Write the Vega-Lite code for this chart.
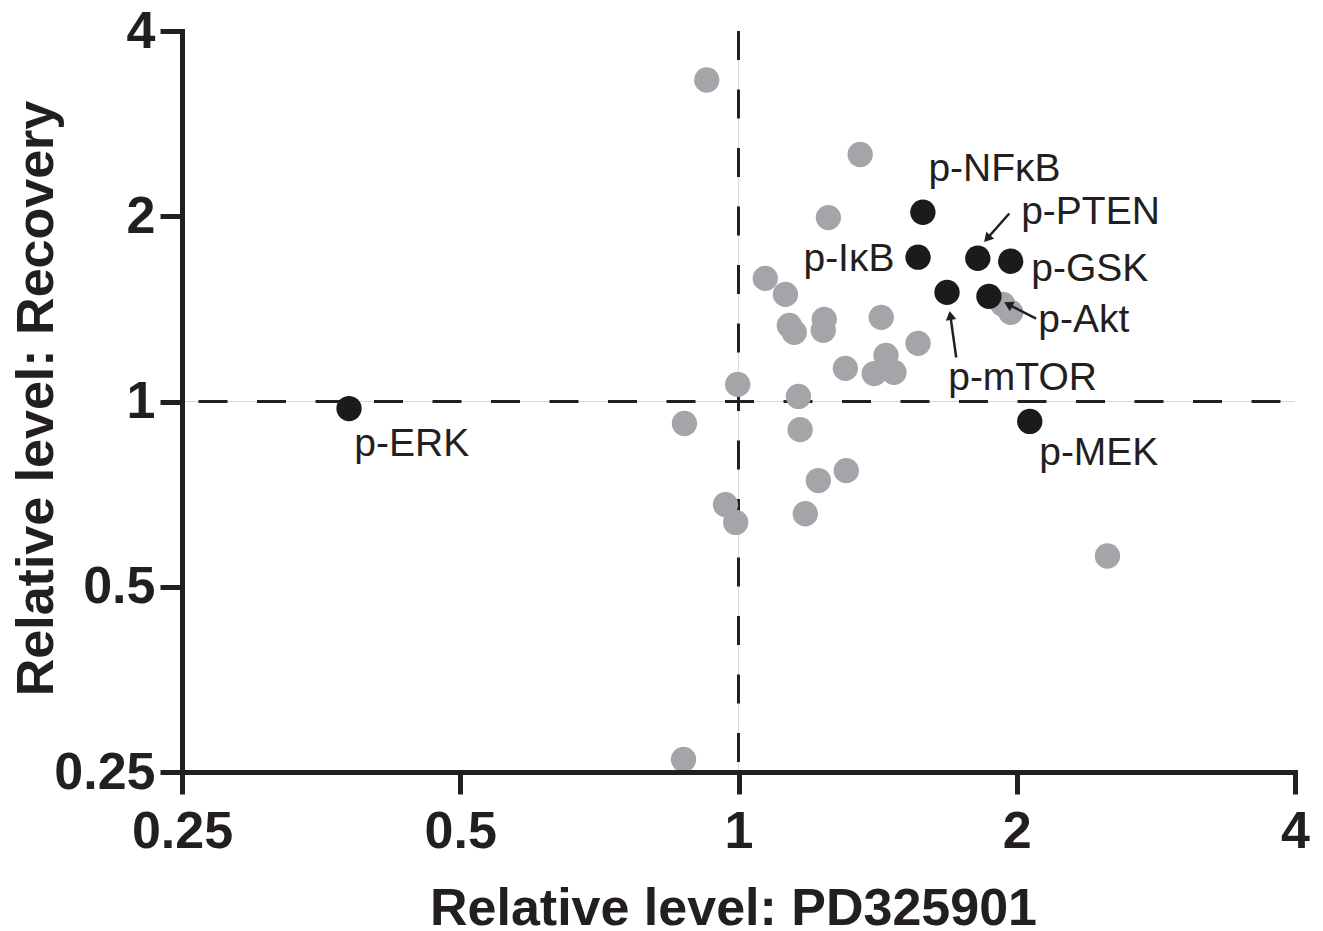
{
  "$schema": "https://vega.github.io/schema/vega-lite/v6.json",
  "width": 1113,
  "height": 741,
  "autosize": {"type": "none"},
  "padding": {"left": 182, "top": 31, "right": 28, "bottom": 159},
  "background": "white",
  "config": {"view": {"stroke": null}, "font": "Liberation Sans"},
  "datasets": {
    "points": [
      {"x": 0.924, "y": 3.33, "group": "other", "name": ""},
      {"x": 1.354, "y": 2.52, "group": "other", "name": ""},
      {"x": 1.251, "y": 1.99, "group": "other", "name": ""},
      {"x": 1.069, "y": 1.585, "group": "other", "name": ""},
      {"x": 1.124, "y": 1.493, "group": "other", "name": ""},
      {"x": 1.135, "y": 1.329, "group": "other", "name": ""},
      {"x": 1.149, "y": 1.295, "group": "other", "name": ""},
      {"x": 1.238, "y": 1.36, "group": "other", "name": ""},
      {"x": 1.235, "y": 1.305, "group": "other", "name": ""},
      {"x": 1.427, "y": 1.37, "group": "other", "name": ""},
      {"x": 1.564, "y": 1.243, "group": "other", "name": ""},
      {"x": 1.305, "y": 1.132, "group": "other", "name": ""},
      {"x": 1.444, "y": 1.188, "group": "other", "name": ""},
      {"x": 1.402, "y": 1.11, "group": "other", "name": ""},
      {"x": 1.473, "y": 1.115, "group": "other", "name": ""},
      {"x": 0.998, "y": 1.066, "group": "other", "name": ""},
      {"x": 1.161, "y": 1.019, "group": "other", "name": ""},
      {"x": 0.874, "y": 0.921, "group": "other", "name": ""},
      {"x": 1.166, "y": 0.9, "group": "other", "name": ""},
      {"x": 1.308, "y": 0.772, "group": "other", "name": ""},
      {"x": 1.22, "y": 0.744, "group": "other", "name": ""},
      {"x": 0.968, "y": 0.68, "group": "other", "name": ""},
      {"x": 0.993, "y": 0.636, "group": "other", "name": ""},
      {"x": 1.181, "y": 0.657, "group": "other", "name": ""},
      {"x": 2.507, "y": 0.561, "group": "other", "name": ""},
      {"x": 0.872, "y": 0.262, "group": "other", "name": ""},
      {"x": 1.932, "y": 1.438, "group": "other", "name": ""},
      {"x": 1.97, "y": 1.396, "group": "other", "name": ""},
      {"x": 0.379, "y": 0.974, "group": "marked", "name": "p-ERK"},
      {"x": 1.583, "y": 2.03, "group": "marked", "name": "p-NFκB"},
      {"x": 1.564, "y": 1.716, "group": "marked", "name": "p-IκB"},
      {"x": 1.815, "y": 1.709, "group": "marked", "name": "p-PTEN"},
      {"x": 1.97, "y": 1.69, "group": "marked", "name": "p-GSK"},
      {"x": 1.681, "y": 1.504, "group": "marked", "name": "p-mTOR"},
      {"x": 1.866, "y": 1.482, "group": "marked", "name": "p-Akt"},
      {"x": 2.066, "y": 0.928, "group": "marked", "name": "p-MEK"}
    ],
    "labels": [
      {"x": 1.605, "y": 2.312, "label": "p-NFκB"},
      {"x": 2.022, "y": 1.968, "label": "p-PTEN"},
      {"x": 2.074, "y": 1.59, "label": "p-GSK"},
      {"x": 2.11, "y": 1.314, "label": "p-Akt"},
      {"x": 1.686, "y": 1.054, "label": "p-mTOR"},
      {"x": 1.1756, "y": 1.645, "label": "p-IκB"},
      {"x": 2.115, "y": 0.796, "label": "p-MEK"},
      {"x": 0.384, "y": 0.826, "label": "p-ERK"}
    ],
    "arrows": [
      {"label": "p-PTEN", "x": 1.963, "y": 2.021, "x2": 1.858, "y2": 1.84},
      {"label": "p-mTOR", "x": 1.72, "y": 1.179, "x2": 1.695, "y2": 1.38},
      {"label": "p-Akt", "x": 2.099, "y": 1.364, "x2": 1.958, "y2": 1.438}
    ],
    "heads": [
      {"label": "p-PTEN", "x": 1.858, "y": 1.84},
      {"label": "p-mTOR", "x": 1.695, "y": 1.38},
      {"label": "p-Akt", "x": 1.958, "y": 1.438}
    ],
    "vline": [{"x": 1, "y": 4, "y2": 0.25}],
    "hline": [{"x": 0.25, "x2": 4, "y": 1}]
  },
  "layer": [
    {
      "data": {"name": "vline"},
      "mark": {"type": "rule", "color": "#d8d8d8", "strokeWidth": 1},
      "encoding": {
        "x": {
          "field": "x", "type": "quantitative",
          "scale": {"type": "log", "base": 2, "domain": [0.25, 4], "nice": false},
          "axis": {
            "values": [0.25, 0.5, 1, 2, 4],
            "format": "~g",
            "title": "Relative level: PD325901",
            "titleFont": "Liberation Sans",
            "titleFontSize": 52,
            "titleFontWeight": "bold",
            "titleColor": "#231f20",
            "titleBaseline": "alphabetic",
            "titleX": 551,
            "titleY": 152,
            "labelFont": "Liberation Sans",
            "labelFontSize": 52,
            "labelFontWeight": "bold",
            "labelColor": "#231f20",
            "labelPadding": 12,
            "labelFlush": false,
            "labelOverlap": false,
            "domainColor": "#231f20",
            "domainWidth": 5,
            "domainCap": "square",
            "tickColor": "#231f20",
            "tickWidth": 5,
            "tickSize": 22,
            "grid": false,
            "zindex": 1
          }
        },
        "y": {
          "field": "y", "type": "quantitative",
          "scale": {"type": "log", "base": 2, "domain": [0.25, 4], "nice": false},
          "axis": {
            "values": [0.25, 0.5, 1, 2, 4],
            "format": "~g",
            "title": "Relative level: Recovery",
            "titleFont": "Liberation Sans",
            "titleFontSize": 52,
            "titleFontWeight": "bold",
            "titleColor": "#231f20",
            "titleBaseline": "alphabetic",
            "titleAlign": "center",
            "titleAngle": -90,
            "titleX": -130,
            "titleY": 367,
            "labelFont": "Liberation Sans",
            "labelFontSize": 52,
            "labelFontWeight": "bold",
            "labelColor": "#231f20",
            "labelPadding": 5,
            "labelFlush": false,
            "labelOverlap": false,
            "domainColor": "#231f20",
            "domainWidth": 5,
            "domainCap": "square",
            "tickColor": "#231f20",
            "tickWidth": 5,
            "tickSize": 22,
            "grid": false,
            "zindex": 1
          }
        },
        "y2": {"field": "y2"}
      }
    },
    {
      "data": {"name": "hline"},
      "mark": {"type": "rule", "color": "#d8d8d8", "strokeWidth": 1},
      "encoding": {
        "x": {"field": "x", "type": "quantitative"},
        "x2": {"field": "x2"},
        "y": {"field": "y", "type": "quantitative"}
      }
    },
    {
      "data": {"name": "vline"},
      "mark": {"type": "rule", "color": "#231f20", "strokeWidth": 3, "strokeDash": [29, 29.5], "strokeDashOffset": 0},
      "encoding": {
        "x": {"field": "x", "type": "quantitative"},
        "y": {"field": "y", "type": "quantitative"},
        "y2": {"field": "y2"}
      }
    },
    {
      "data": {"name": "hline"},
      "mark": {"type": "rule", "color": "#231f20", "strokeWidth": 3, "strokeDash": [29, 29.5], "strokeDashOffset": 42},
      "encoding": {
        "x": {"field": "x", "type": "quantitative"},
        "x2": {"field": "x2"},
        "y": {"field": "y", "type": "quantitative"}
      }
    },
    {
      "data": {"name": "points"},
      "mark": {"type": "circle", "size": 640, "opacity": 1},
      "encoding": {
        "x": {"field": "x", "type": "quantitative"},
        "y": {"field": "y", "type": "quantitative"},
        "color": {
          "field": "group", "type": "nominal",
          "scale": {"domain": ["other", "marked"], "range": ["#a3a5a8", "#1c1a1b"]},
          "legend": null
        }
      }
    },
    {
      "data": {"name": "arrows"},
      "mark": {"type": "rule", "color": "#231f20", "strokeWidth": 2.5},
      "encoding": {
        "x": {"field": "x", "type": "quantitative"},
        "y": {"field": "y", "type": "quantitative"},
        "x2": {"field": "x2"},
        "y2": {"field": "y2"}
      }
    },
    {
      "data": {"name": "heads"},
      "transform": [{"filter": "datum.label === 'p-PTEN'"}],
      "mark": {"type": "point", "shape": "triangle-up", "filled": true, "size": 110, "angle": 222, "color": "#231f20", "opacity": 1},
      "encoding": {
        "x": {"field": "x", "type": "quantitative"},
        "y": {"field": "y", "type": "quantitative"}
      }
    },
    {
      "data": {"name": "heads"},
      "transform": [{"filter": "datum.label === 'p-mTOR'"}],
      "mark": {"type": "point", "shape": "triangle-up", "filled": true, "size": 110, "angle": 351, "color": "#231f20", "opacity": 1},
      "encoding": {
        "x": {"field": "x", "type": "quantitative"},
        "y": {"field": "y", "type": "quantitative"}
      }
    },
    {
      "data": {"name": "heads"},
      "transform": [{"filter": "datum.label === 'p-Akt'"}],
      "mark": {"type": "point", "shape": "triangle-up", "filled": true, "size": 110, "angle": 297, "color": "#231f20", "opacity": 1},
      "encoding": {
        "x": {"field": "x", "type": "quantitative"},
        "y": {"field": "y", "type": "quantitative"}
      }
    },
    {
      "data": {"name": "labels"},
      "mark": {"type": "text", "align": "left", "baseline": "alphabetic", "font": "Liberation Sans", "fontSize": 39, "dy": 3, "color": "#231f20"},
      "encoding": {
        "x": {"field": "x", "type": "quantitative"},
        "y": {"field": "y", "type": "quantitative"},
        "text": {"field": "label"}
      }
    }
  ]
}
